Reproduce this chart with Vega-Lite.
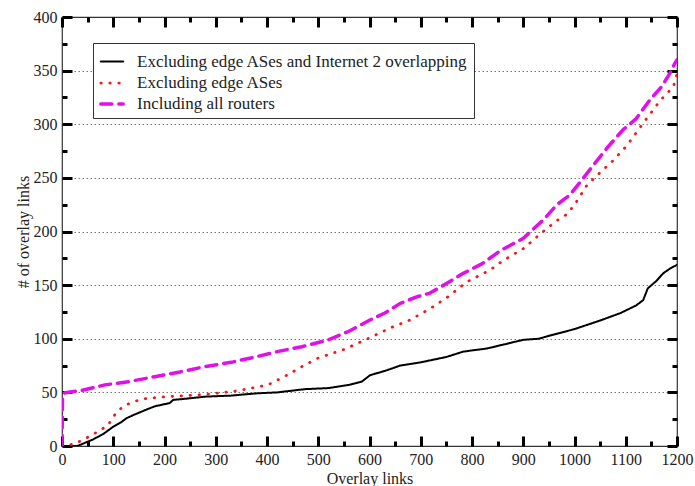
{
  "$schema": "https://vega.github.io/schema/vega-lite/v6.json",
  "width": 615,
  "height": 429,
  "autosize": {"type": "none"},
  "padding": {"left": 62, "top": 17, "right": 18, "bottom": 40},
  "background": "white",
  "config": {
    "view": {"stroke": "#333", "strokeWidth": 1.2},
    "font": "Liberation Serif",
    "axis": {
      "labelFont": "Liberation Serif",
      "titleFont": "Liberation Serif",
      "labelFontSize": 16,
      "titleFontSize": 16,
      "titleFontWeight": "normal",
      "labelColor": "#222",
      "titleColor": "#222",
      "domain": false,
      "grid": false,
      "labelFlush": false,
      "labelOverlap": false,
      "ticks": true,
      "tickColor": "#000000",
      "tickWidth": 3,
      "tickOpacity": 1
    },
    "legend": {
      "orient": "none",
      "legendX": 31,
      "legendY": 26,
      "strokeColor": "#333",
      "fillColor": "white",
      "padding": 6,
      "labelFont": "Liberation Serif",
      "labelFontSize": 17,
      "labelColor": "#222",
      "symbolType": "stroke",
      "symbolSize": 500,
      "symbolStrokeWidth": 3,
      "rowPadding": 0,
      "labelOffset": 12,
      "labelLimit": 500
    }
  },
  "datasets": {
    "curves": [
      {"x": 0, "y": 0, "s": "Excluding edge ASes and Internet 2 overlapping"},
      {"x": 30, "y": 0, "s": "Excluding edge ASes and Internet 2 overlapping"},
      {"x": 40, "y": 2, "s": "Excluding edge ASes and Internet 2 overlapping"},
      {"x": 60, "y": 6, "s": "Excluding edge ASes and Internet 2 overlapping"},
      {"x": 80, "y": 11, "s": "Excluding edge ASes and Internet 2 overlapping"},
      {"x": 100, "y": 18, "s": "Excluding edge ASes and Internet 2 overlapping"},
      {"x": 115, "y": 22, "s": "Excluding edge ASes and Internet 2 overlapping"},
      {"x": 126, "y": 26, "s": "Excluding edge ASes and Internet 2 overlapping"},
      {"x": 140, "y": 29, "s": "Excluding edge ASes and Internet 2 overlapping"},
      {"x": 150, "y": 31, "s": "Excluding edge ASes and Internet 2 overlapping"},
      {"x": 165, "y": 34, "s": "Excluding edge ASes and Internet 2 overlapping"},
      {"x": 181, "y": 37, "s": "Excluding edge ASes and Internet 2 overlapping"},
      {"x": 200, "y": 39, "s": "Excluding edge ASes and Internet 2 overlapping"},
      {"x": 210, "y": 40, "s": "Excluding edge ASes and Internet 2 overlapping"},
      {"x": 217, "y": 43, "s": "Excluding edge ASes and Internet 2 overlapping"},
      {"x": 240, "y": 44, "s": "Excluding edge ASes and Internet 2 overlapping"},
      {"x": 279, "y": 46, "s": "Excluding edge ASes and Internet 2 overlapping"},
      {"x": 330, "y": 47, "s": "Excluding edge ASes and Internet 2 overlapping"},
      {"x": 377, "y": 49, "s": "Excluding edge ASes and Internet 2 overlapping"},
      {"x": 420, "y": 50, "s": "Excluding edge ASes and Internet 2 overlapping"},
      {"x": 474, "y": 53, "s": "Excluding edge ASes and Internet 2 overlapping"},
      {"x": 520, "y": 54, "s": "Excluding edge ASes and Internet 2 overlapping"},
      {"x": 560, "y": 57, "s": "Excluding edge ASes and Internet 2 overlapping"},
      {"x": 585, "y": 60, "s": "Excluding edge ASes and Internet 2 overlapping"},
      {"x": 601, "y": 66, "s": "Excluding edge ASes and Internet 2 overlapping"},
      {"x": 630, "y": 70, "s": "Excluding edge ASes and Internet 2 overlapping"},
      {"x": 660, "y": 75, "s": "Excluding edge ASes and Internet 2 overlapping"},
      {"x": 700, "y": 78, "s": "Excluding edge ASes and Internet 2 overlapping"},
      {"x": 750, "y": 83, "s": "Excluding edge ASes and Internet 2 overlapping"},
      {"x": 783, "y": 88, "s": "Excluding edge ASes and Internet 2 overlapping"},
      {"x": 830, "y": 91, "s": "Excluding edge ASes and Internet 2 overlapping"},
      {"x": 874, "y": 96, "s": "Excluding edge ASes and Internet 2 overlapping"},
      {"x": 900, "y": 99, "s": "Excluding edge ASes and Internet 2 overlapping"},
      {"x": 930, "y": 100, "s": "Excluding edge ASes and Internet 2 overlapping"},
      {"x": 960, "y": 104, "s": "Excluding edge ASes and Internet 2 overlapping"},
      {"x": 1000, "y": 109, "s": "Excluding edge ASes and Internet 2 overlapping"},
      {"x": 1050, "y": 117, "s": "Excluding edge ASes and Internet 2 overlapping"},
      {"x": 1090, "y": 124, "s": "Excluding edge ASes and Internet 2 overlapping"},
      {"x": 1120, "y": 131, "s": "Excluding edge ASes and Internet 2 overlapping"},
      {"x": 1134, "y": 136, "s": "Excluding edge ASes and Internet 2 overlapping"},
      {"x": 1143, "y": 147, "s": "Excluding edge ASes and Internet 2 overlapping"},
      {"x": 1160, "y": 154, "s": "Excluding edge ASes and Internet 2 overlapping"},
      {"x": 1173, "y": 161, "s": "Excluding edge ASes and Internet 2 overlapping"},
      {"x": 1185, "y": 165, "s": "Excluding edge ASes and Internet 2 overlapping"},
      {"x": 1200, "y": 169, "s": "Excluding edge ASes and Internet 2 overlapping"},
      {"x": 0, "y": 0, "s": "Excluding edge ASes"},
      {"x": 25, "y": 2, "s": "Excluding edge ASes"},
      {"x": 58, "y": 10, "s": "Excluding edge ASes"},
      {"x": 89, "y": 19, "s": "Excluding edge ASes"},
      {"x": 107, "y": 32, "s": "Excluding edge ASes"},
      {"x": 123, "y": 38, "s": "Excluding edge ASes"},
      {"x": 155, "y": 43.8, "s": "Excluding edge ASes"},
      {"x": 201, "y": 46, "s": "Excluding edge ASes"},
      {"x": 279, "y": 48, "s": "Excluding edge ASes"},
      {"x": 344, "y": 51.6, "s": "Excluding edge ASes"},
      {"x": 402, "y": 57, "s": "Excluding edge ASes"},
      {"x": 435, "y": 65, "s": "Excluding edge ASes"},
      {"x": 468, "y": 74, "s": "Excluding edge ASes"},
      {"x": 500, "y": 82, "s": "Excluding edge ASes"},
      {"x": 550, "y": 90, "s": "Excluding edge ASes"},
      {"x": 601, "y": 101, "s": "Excluding edge ASes"},
      {"x": 640, "y": 110, "s": "Excluding edge ASes"},
      {"x": 679, "y": 117.5, "s": "Excluding edge ASes"},
      {"x": 718, "y": 128, "s": "Excluding edge ASes"},
      {"x": 750, "y": 138, "s": "Excluding edge ASes"},
      {"x": 790, "y": 153, "s": "Excluding edge ASes"},
      {"x": 835, "y": 164, "s": "Excluding edge ASes"},
      {"x": 861, "y": 173, "s": "Excluding edge ASes"},
      {"x": 900, "y": 184, "s": "Excluding edge ASes"},
      {"x": 939, "y": 200, "s": "Excluding edge ASes"},
      {"x": 965, "y": 210, "s": "Excluding edge ASes"},
      {"x": 985, "y": 216, "s": "Excluding edge ASes"},
      {"x": 1000, "y": 225, "s": "Excluding edge ASes"},
      {"x": 1024, "y": 243, "s": "Excluding edge ASes"},
      {"x": 1050, "y": 255, "s": "Excluding edge ASes"},
      {"x": 1075, "y": 266, "s": "Excluding edge ASes"},
      {"x": 1102, "y": 280, "s": "Excluding edge ASes"},
      {"x": 1134, "y": 301, "s": "Excluding edge ASes"},
      {"x": 1167, "y": 322, "s": "Excluding edge ASes"},
      {"x": 1193, "y": 335, "s": "Excluding edge ASes"},
      {"x": 1200, "y": 347, "s": "Excluding edge ASes"},
      {"x": 0, "y": 0, "s": "Including all routers"},
      {"x": 1, "y": 48, "s": "Including all routers"},
      {"x": 6, "y": 49.7, "s": "Including all routers"},
      {"x": 40, "y": 52, "s": "Including all routers"},
      {"x": 84, "y": 57, "s": "Including all routers"},
      {"x": 130, "y": 60, "s": "Including all routers"},
      {"x": 181, "y": 64.6, "s": "Including all routers"},
      {"x": 230, "y": 69, "s": "Including all routers"},
      {"x": 279, "y": 74, "s": "Including all routers"},
      {"x": 330, "y": 78, "s": "Including all routers"},
      {"x": 377, "y": 83, "s": "Including all routers"},
      {"x": 420, "y": 88, "s": "Including all routers"},
      {"x": 468, "y": 92.6, "s": "Including all routers"},
      {"x": 520, "y": 99, "s": "Including all routers"},
      {"x": 560, "y": 107, "s": "Including all routers"},
      {"x": 601, "y": 117.5, "s": "Including all routers"},
      {"x": 630, "y": 124, "s": "Including all routers"},
      {"x": 660, "y": 133, "s": "Including all routers"},
      {"x": 692, "y": 139, "s": "Including all routers"},
      {"x": 718, "y": 142.6, "s": "Including all routers"},
      {"x": 751, "y": 151.7, "s": "Including all routers"},
      {"x": 783, "y": 161, "s": "Including all routers"},
      {"x": 820, "y": 170, "s": "Including all routers"},
      {"x": 855, "y": 182, "s": "Including all routers"},
      {"x": 900, "y": 193.6, "s": "Including all routers"},
      {"x": 939, "y": 210.7, "s": "Including all routers"},
      {"x": 965, "y": 224.7, "s": "Including all routers"},
      {"x": 991, "y": 234, "s": "Including all routers"},
      {"x": 1024, "y": 254, "s": "Including all routers"},
      {"x": 1063, "y": 277.6, "s": "Including all routers"},
      {"x": 1095, "y": 295, "s": "Including all routers"},
      {"x": 1120, "y": 305, "s": "Including all routers"},
      {"x": 1147, "y": 322.6, "s": "Including all routers"},
      {"x": 1170, "y": 335, "s": "Including all routers"},
      {"x": 1186, "y": 347.5, "s": "Including all routers"},
      {"x": 1196, "y": 357, "s": "Including all routers"},
      {"x": 1200, "y": 360, "s": "Including all routers"}
    ]
  },
  "data": {"name": "curves"},
  "layer": [
    {
      "mark": {"type": "line", "strokeCap": "round", "strokeJoin": "round", "clip": true},
      "encoding": {
        "x": {
          "field": "x", "type": "quantitative",
          "scale": {"domain": [0, 1200], "nice": false, "zero": false},
          "axis": {
            "orient": "bottom",
            "title": "Overlay links",
            "format": "d",
            "values": [0,100,200,300,400,500,600,700,800,900,1000,1100,1200],
            "offset": -10,
            "tickSize": 10,
            "tickColor": "#000000",
            "tickWidth": 3,
            "labelPadding": 5,
            "titlePadding": 3
          }
        },
        "y": {
          "field": "y", "type": "quantitative",
          "scale": {"domain": [0, 400], "nice": false, "zero": false},
          "axis": {
            "orient": "left",
            "title": "# of overlay links",
            "format": "d",
            "values": [0,50,100,150,200,250,300,350,400],
            "offset": -10,
            "tickSize": 10,
            "tickColor": "#000000",
            "tickWidth": 3,
            "labelPadding": 5,
            "titlePadding": 2,
            "grid": true,
            "gridColor": "#777",
            "gridDash": [1.5, 2.5],
            "gridWidth": 1,
            "gridOpacity": {"condition": {"test": "datum.value > 0 && datum.value < 400", "value": 1}, "value": 0}
          }
        },
        "color": {
          "field": "s", "type": "nominal",
          "sort": ["Excluding edge ASes and Internet 2 overlapping", "Excluding edge ASes", "Including all routers"],
          "scale": {
            "domain": ["Excluding edge ASes and Internet 2 overlapping", "Excluding edge ASes", "Including all routers"],
            "range": ["#000000", "#f01818", "#e010e8"]
          },
          "legend": {"title": null, "encode": {"symbols": {"update": {"strokeCap": {"value": "round"}}}}}
        },
        "strokeDash": {
          "field": "s", "type": "nominal",
          "sort": ["Excluding edge ASes and Internet 2 overlapping", "Excluding edge ASes", "Including all routers"],
          "scale": {
            "domain": ["Excluding edge ASes and Internet 2 overlapping", "Excluding edge ASes", "Including all routers"],
            "range": [[1, 0], [0.5, 8.5], [11, 7]]
          },
          "legend": {"title": null, "encode": {"symbols": {"update": {"strokeCap": {"value": "round"}}}}}
        },
        "strokeWidth": {
          "field": "s", "type": "nominal",
          "scale": {
            "domain": ["Excluding edge ASes and Internet 2 overlapping", "Excluding edge ASes", "Including all routers"],
            "range": [2, 3.5, 3]
          },
          "legend": null
        }
      }
    },
    {
      "mark": {"type": "point", "opacity": 0},
      "encoding": {
        "x": {
          "field": "x", "type": "quantitative",
          "scale": {"domain": [0, 1200], "nice": false, "zero": false},
          "axis": {
            "orient": "bottom", "title": null, "labels": false,
            "values": [50,150,250,350,450,550,650,750,850,950,1050,1150],
            "offset": -5, "tickSize": 5, "tickColor": "#000000", "tickWidth": 3
          }
        },
        "y": {
          "field": "y", "type": "quantitative",
          "scale": {"domain": [0, 400], "nice": false, "zero": false},
          "axis": {
            "orient": "left", "title": null, "labels": false,
            "values": [25,75,125,175,225,275,325,375],
            "offset": -5, "tickSize": 5, "tickColor": "#000000", "tickWidth": 3
          }
        }
      }
    },
    {
      "mark": {"type": "point", "opacity": 0},
      "encoding": {
        "x": {
          "field": "x", "type": "quantitative",
          "scale": {"domain": [0, 1200], "nice": false, "zero": false},
          "axis": {
            "orient": "top", "title": null, "labels": false,
            "values": [0,100,200,300,400,500,600,700,800,900,1000,1100,1200],
            "offset": -10, "tickSize": 10, "tickColor": "#000000", "tickWidth": 3
          }
        },
        "y": {
          "field": "y", "type": "quantitative",
          "scale": {"domain": [0, 400], "nice": false, "zero": false},
          "axis": {
            "orient": "right", "title": null, "labels": false,
            "values": [0,50,100,150,200,250,300,350,400],
            "offset": -10, "tickSize": 10, "tickColor": "#000000", "tickWidth": 3
          }
        }
      }
    },
    {
      "mark": {"type": "point", "opacity": 0},
      "encoding": {
        "x": {
          "field": "x", "type": "quantitative",
          "scale": {"domain": [0, 1200], "nice": false, "zero": false},
          "axis": {
            "orient": "top", "title": null, "labels": false,
            "values": [50,150,250,350,450,550,650,750,850,950,1050,1150],
            "offset": -5, "tickSize": 5, "tickColor": "#000000", "tickWidth": 3
          }
        },
        "y": {
          "field": "y", "type": "quantitative",
          "scale": {"domain": [0, 400], "nice": false, "zero": false},
          "axis": {
            "orient": "right", "title": null, "labels": false,
            "values": [25,75,125,175,225,275,325,375],
            "offset": -5, "tickSize": 5, "tickColor": "#000000", "tickWidth": 3
          }
        }
      }
    }
  ],
  "resolve": {"scale": {"x": "independent", "y": "independent"}}
}
